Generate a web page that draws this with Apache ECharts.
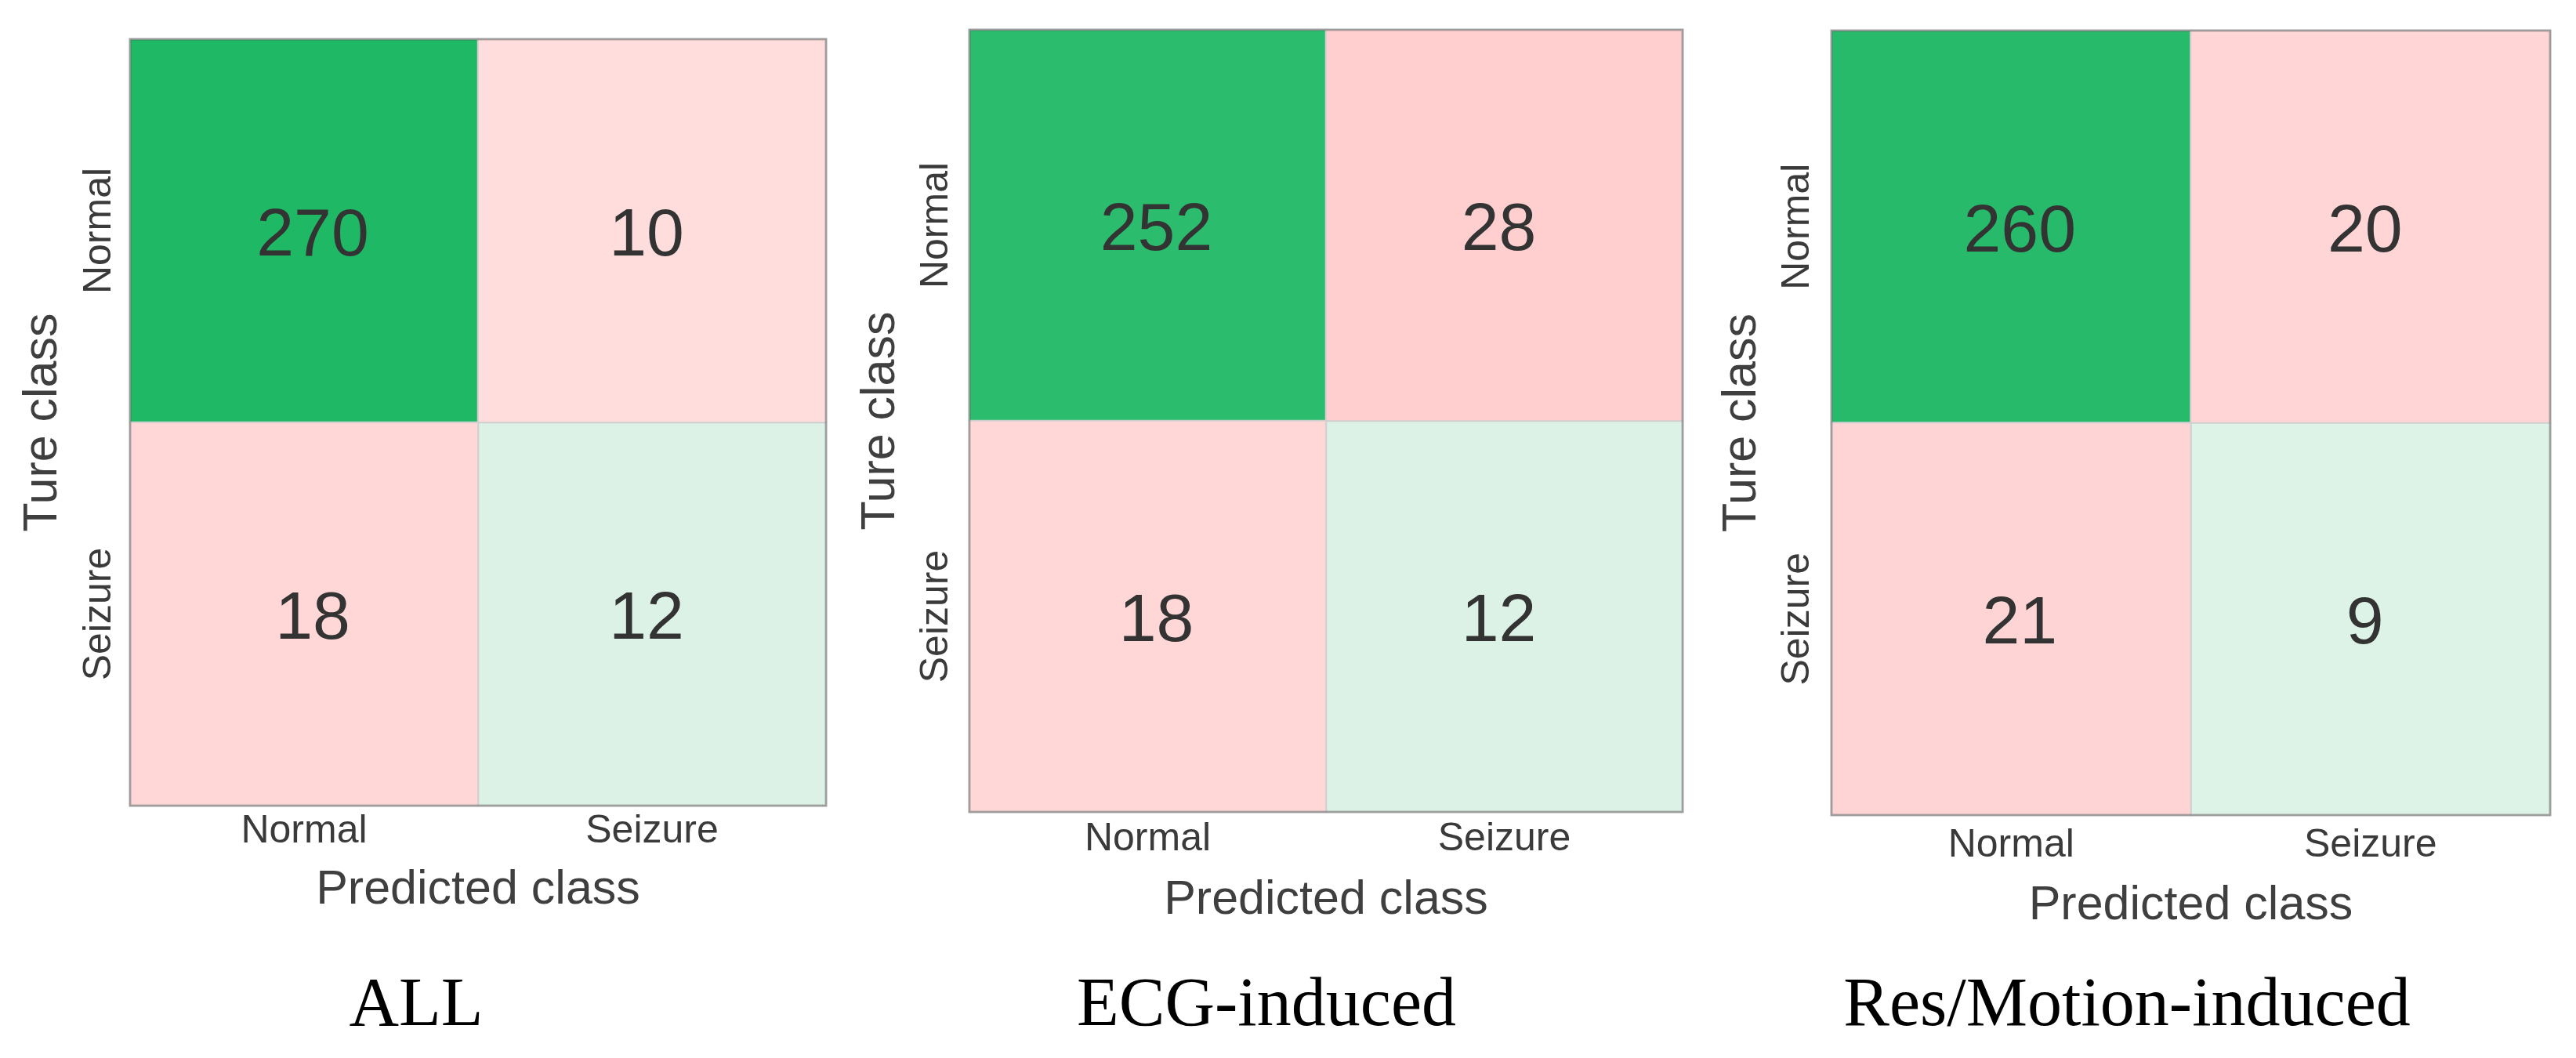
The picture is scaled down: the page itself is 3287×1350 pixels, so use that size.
<!DOCTYPE html>
<html><head><meta charset="utf-8">
<script src="https://cdn.jsdelivr.net/npm/echarts@6/dist/echarts.min.js"></script>
<style>html,body{margin:0;background:#fff}#c{width:3287px;height:1350px}</style>
</head><body><div id="c"></div>
<script>
// ---- data ----
const predictedLabels = ['Normal', 'Seizure'];
const trueLabels = ['Normal', 'Seizure'];
const panelTitles = ['ALL', 'ECG-induced', 'Res/Motion-induced'];
// rows = true class, columns = predicted class
const matrixAll = [[270, 10], [18, 12]];
const matrixECG = [[252, 28], [18, 12]];
const matrixResMotion = [[260, 20], [21, 9]];
const xAxisName = 'Predicted class';
const yAxisName = 'Ture class';

// ---- layout / style ----
const matrices = [matrixAll, matrixECG, matrixResMotion];
const grids = [
  {left: 166, top: 50, width: 888, height: 978},
  {left: 1237, top: 38, width: 910, height: 998},
  {left: 2337, top: 39, width: 917, height: 1001}
];
const xLabelMargin = [8, 10, 14];
const xNameGap = [78, 83, 86];
const yLabelMargin = [14, 17, 18];
const yNameGap = [80, 82, 83];
const captionX = [531, 1616, 2714];
const sans = '"Liberation Sans", Arial, sans-serif';

const diagSeries = [], offSeries = [], series = [];
const diagVals = [], offVals = [];
matrices.forEach((m, p) => {
  const diag = [], off = [];
  m.forEach((row, r) => row.forEach((v, c) => {
    const item = {value: [c, r, v], label: {offset: [c === 0 ? 11 : -7, 8]}};
    if (r === c) { diag.push(item); diagVals.push(v); } else { off.push(item); offVals.push(v); }
  }));
  [diag, off].forEach((d, k) => {
    const idx = series.length;
    (k === 0 ? diagSeries : offSeries).push(idx);
    series.push({
      type: 'heatmap', xAxisIndex: p, yAxisIndex: p, data: d,
      label: {show: true, fontSize: 86, color: '#333333', fontFamily: sans},
      itemStyle: {borderColor: '#cfcfcf', borderWidth: 2},
      emphasis: {disabled: true}
    });
  });
});

const option = {
  backgroundColor: '#ffffff',
  animation: false,
  grid: grids.map(g => Object.assign({show: true, borderColor: 'rgba(60,60,60,0.35)', borderWidth: 3, backgroundColor: 'transparent', z: 10, containLabel: false}, g)),
  xAxis: grids.map((g, i) => ({
    type: 'category', gridIndex: i, data: predictedLabels, position: 'bottom',
    axisLine: {show: false}, axisTick: {show: false}, splitLine: {show: false},
    axisLabel: {fontSize: 50, color: '#3a3a3a', margin: xLabelMargin[i], fontFamily: sans},
    name: xAxisName, nameLocation: 'middle', nameGap: xNameGap[i],
    nameTextStyle: {fontSize: 61, color: '#3f3f3f', fontFamily: sans}
  })),
  yAxis: grids.map((g, i) => ({
    type: 'category', gridIndex: i, data: trueLabels, inverse: true,
    axisLine: {show: false}, axisTick: {show: false}, splitLine: {show: false},
    axisLabel: {fontSize: 50, color: '#3a3a3a', margin: yLabelMargin[i], rotate: 90, fontFamily: sans},
    name: yAxisName, nameLocation: 'middle', nameGap: yNameGap[i],
    nameTextStyle: {fontSize: 61, color: '#3f3f3f', fontFamily: sans}
  })),
  visualMap: [
    {type: 'continuous', show: false, seriesIndex: diagSeries, dimension: 2,
     min: Math.min(...diagVals), max: Math.max(...diagVals),
     inRange: {color: ['#def3e7', '#1fb865']}},
    {type: 'continuous', show: false, seriesIndex: offSeries, dimension: 2,
     min: Math.min(...offVals), max: Math.max(...offVals),
     inRange: {color: ['#ffdddd', '#ffcfcf']}}
  ],
  graphic: panelTitles.map((t, i) => ({
    type: 'text', x: captionX[i], y: 1241,
    style: {text: t, fill: '#000000', fontSize: 88, fontFamily: '"Liberation Serif", "Times New Roman", serif', align: 'center', verticalAlign: 'top'}
  })),
  series: series
};
const chart = echarts.init(document.getElementById('c'), null, {renderer: 'canvas'});
chart.setOption(option);
</script>
</body></html>
